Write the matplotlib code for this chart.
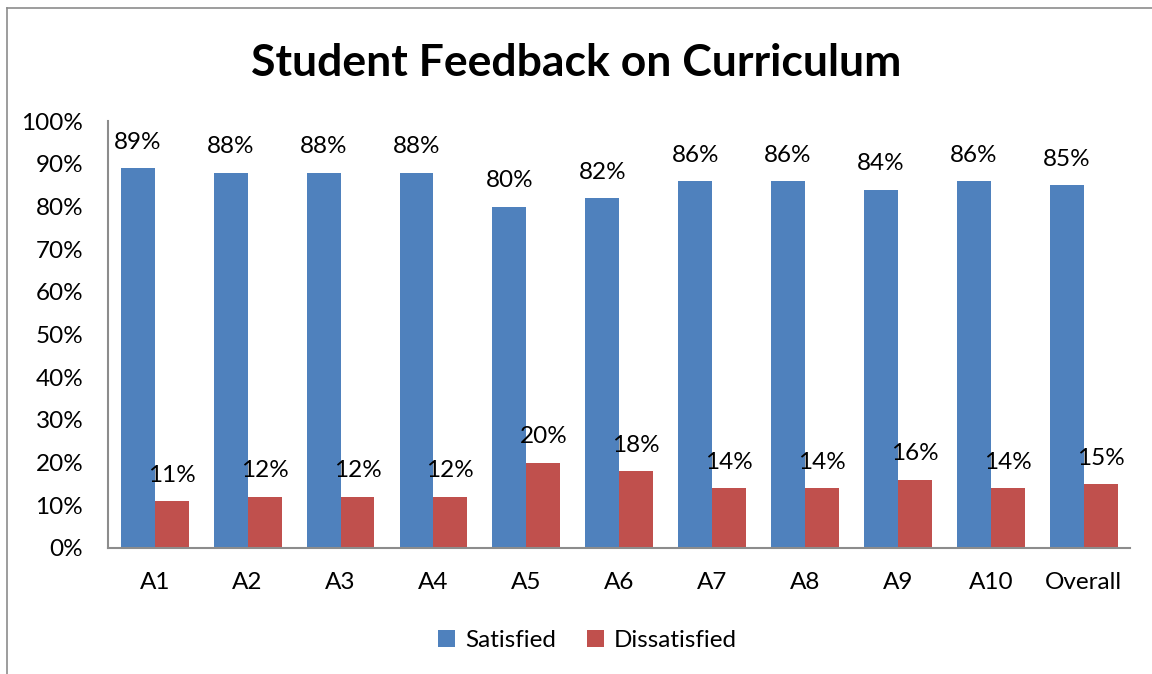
import matplotlib.pyplot as plt
import numpy as np

# Categories and feedback percentages
categories = ['A1', 'A2', 'A3', 'A4', 'A5', 'A6', 'A7', 'A8', 'A9', 'A10', 'Overall']
satisfied = [89, 88, 88, 88, 80, 82, 86, 86, 84, 86, 85]
dissatisfied = [11, 12, 12, 12, 20, 18, 14, 14, 16, 14, 15]

plt.rcParams['font.family'] = ['Lato', 'DejaVu Sans']
fs = 17.5

fig = plt.figure(figsize=(11.52, 6.74), dpi=100)
ax = fig.add_axes([0.094, 0.187, 0.887, 0.633])

x = np.arange(len(categories))
w = 0.365
b1 = ax.bar(x - w / 2, satisfied, w, color='#4F81BD', label='Satisfied')
b2 = ax.bar(x + w / 2, dissatisfied, w, color='#C0504D', label='Dissatisfied')

# Value labels above bars
for bars in (b1, b2):
    for rect in bars:
        h = rect.get_height()
        ax.annotate(f'{h:.0f}%', (rect.get_x() + rect.get_width() / 2, h),
                    xytext=(0, 11), textcoords='offset points',
                    ha='center', va='bottom', fontsize=fs)

ax.set_xlim(-0.5, len(categories) - 0.5)
ax.set_ylim(0, 100)
ax.set_yticks(range(0, 101, 10))
ax.set_yticklabels([f'{v}%' for v in range(0, 101, 10)], fontsize=fs)
ax.set_xticks(x)
ax.set_xticklabels(categories, fontsize=fs)
ax.tick_params(axis='y', length=0, pad=18)
ax.tick_params(axis='x', length=0, pad=17)

for side in ('top', 'right'):
    ax.spines[side].set_visible(False)
for side in ('left', 'bottom'):
    ax.spines[side].set_color('#8C8C8C')
    ax.spines[side].set_linewidth(1.5)

fig.suptitle('Student Feedback on Curriculum', fontsize=32, fontweight='bold', y=0.936)

fig.legend(loc='center', bbox_to_anchor=(0.51, 0.05), ncol=2, frameon=False,
           fontsize=fs, handlelength=0.7, handleheight=0.7, columnspacing=1.3,
           handletextpad=0.4)

# Chart border (left and top visible in reference)
fig.add_artist(plt.Line2D([0.0065, 0.0065], [0, 0.988], color='#8C8C8C', lw=1.2,
                          transform=fig.transFigure))
fig.add_artist(plt.Line2D([0.0065, 1.0], [0.988, 0.988], color='#8C8C8C', lw=1.2,
                          transform=fig.transFigure))

fig.savefig('out.png', dpi=100)
